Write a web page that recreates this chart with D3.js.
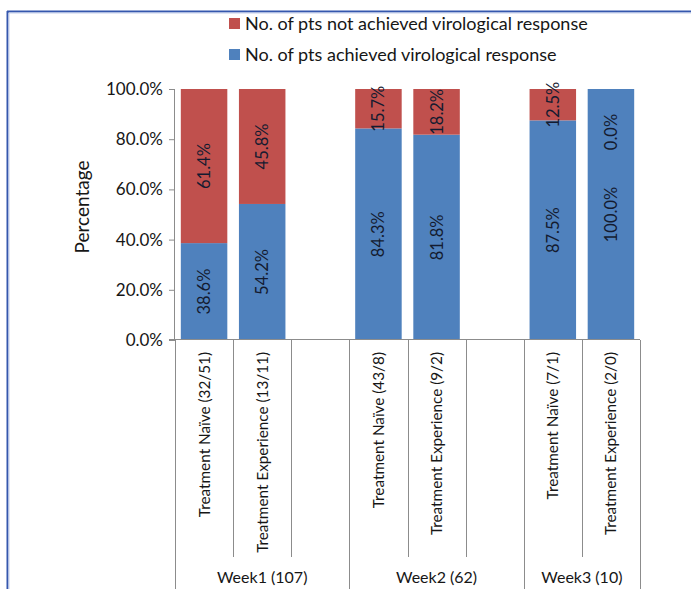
<!DOCTYPE html>
<html><head><meta charset="utf-8">
<script src="https://cdn.jsdelivr.net/npm/d3@7"></script>
<style>body{margin:0;background:#fff}svg{display:block}</style>
</head><body><svg id="c" width="691" height="589"></svg>
<script>
const categories = ["Treatment Naïve (32/51)","Treatment Experience (13/11)","","Treatment Naïve (43/8)","Treatment Experience (9/2)","","Treatment Naïve (7/1)","Treatment Experience (2/0)"];
const achieved = [38.6,54.2,null,84.3,81.8,null,87.5,100.0];
const notAchieved = [61.4,45.8,null,15.7,18.2,null,12.5,0.0];
const groups = ["Week1 (107)","Week2 (62)","Week3 (10)"];
const groupSizes = [3,3,2];
const yTicks = [0,20,40,60,80,100];
const seriesNames = ["No. of pts not achieved virological response","No. of pts achieved virological response"];
const colors = {achieved:"#4f81bd", notAchieved:"#c0504d"};

const font = "Lato, 'Liberation Sans', sans-serif";
const txt = "#161616";
const svg = d3.select("#c");

// frame
svg.append("line").attr("x1",7).attr("x2",691).attr("y1",11.5).attr("y2",11.5).attr("stroke","#3557ad").attr("stroke-width",2);
svg.append("line").attr("x1",7.5).attr("x2",7.5).attr("y1",11).attr("y2",589).attr("stroke","#3557ad").attr("stroke-width",2);
svg.append("line").attr("x1",9).attr("x2",691).attr("y1",13).attr("y2",13).attr("stroke","#c5d0ec").attr("stroke-width",1);
svg.append("line").attr("x1",9).attr("x2",9).attr("y1",13).attr("y2",589).attr("stroke","#c5d0ec").attr("stroke-width",1);

const x = d3.scaleBand().domain(d3.range(categories.length)).range([175,640]).paddingInner(0.2).paddingOuter(0.1);
const y = d3.scaleLinear().domain([0,100]).range([340,89]);
const step = x.step();
const x0 = 175;

// bars
const idx = d3.range(categories.length).filter(i => achieved[i] !== null);
svg.append("g").selectAll("rect.a").data(idx).join("rect")
  .attr("x", i => x(i)).attr("width", x.bandwidth())
  .attr("y", i => y(achieved[i])).attr("height", i => y(0) - y(achieved[i]))
  .attr("fill", colors.achieved);
svg.append("g").selectAll("rect.n").data(idx).join("rect")
  .attr("x", i => x(i)).attr("width", x.bandwidth())
  .attr("y", i => y(achieved[i] + notAchieved[i])).attr("height", i => y(achieved[i]) - y(achieved[i] + notAchieved[i]))
  .attr("fill", colors.notAchieved);

// data labels
const lblColor = "#141b30";
function lbl(i, lo, v){
  const cx = x(i) + x.bandwidth()/2;
  let cy = (y(lo) + y(lo+v))/2;
  if (v === 0) cy = y(lo) + 43;
  svg.append("text").attr("transform", `translate(${cx+6},${cy}) rotate(-90)`)
    .attr("text-anchor","middle").attr("font-family",font).attr("font-size",16.5)
    .attr("fill",lblColor).text(v.toFixed(1)+"%");
}
idx.forEach(i => { lbl(i, 0, achieved[i]); lbl(i, achieved[i], notAchieved[i]); });

// y axis
const yAxis = svg.append("g").attr("transform","translate(175,0)")
  .call(d3.axisLeft(y).tickValues(yTicks).tickSize(6).tickPadding(6).tickFormat(d => d.toFixed(1)+"%"));
yAxis.select(".domain").attr("stroke","#8c8c8c").attr("d","M-0.5,89V340");
yAxis.selectAll(".tick line").attr("stroke","#8c8c8c");
yAxis.selectAll(".tick text").attr("font-family",font).attr("font-size",17).attr("fill",txt);
svg.append("text").attr("transform","translate(89,207) rotate(-90)").attr("text-anchor","middle")
  .attr("font-family",font).attr("font-size",19).attr("fill",txt).text("Percentage");

// x axis baseline
svg.append("line").attr("x1",169).attr("x2",640).attr("y1",339.5).attr("y2",339.5).attr("stroke","#8c8c8c");

// dividers
const groupEdges = [0];
groupSizes.forEach(s => groupEdges.push(groupEdges[groupEdges.length-1] + s));
d3.range(categories.length + 1).forEach(k => {
  const isGroup = groupEdges.includes(k);
  const xx = Math.round(x0 + k*step) + 0.5;
  svg.append("line").attr("x1",xx).attr("x2",xx).attr("y1",340).attr("y2", isGroup ? 589 : 557)
    .attr("stroke","#8c8c8c");
});

// category labels
categories.forEach((c,i) => {
  if (!c) return;
  const cx = x0 + (i+0.5)*step;
  svg.append("text").attr("transform",`translate(${cx+5.5},352) rotate(-90)`)
    .attr("text-anchor","end").attr("font-family",font).attr("font-size",15.3).attr("fill",txt).text(c);
});

// group labels
groups.forEach((g,j) => {
  const a = x0 + groupEdges[j]*step, b = x0 + groupEdges[j+1]*step;
  svg.append("text").attr("x",(a+b)/2).attr("y",583).attr("text-anchor","middle")
    .attr("font-family",font).attr("font-size",16).attr("fill",txt).text(g);
});

// legend
const legColors = [colors.notAchieved, colors.achieved];
seriesNames.forEach((s,k) => {
  const yy = 24 + k*31;
  svg.append("rect").attr("x",229).attr("y",yy-6).attr("width",11).attr("height",11).attr("fill",legColors[k]);
  svg.append("text").attr("x",245).attr("y",yy+6).attr("font-family",font).attr("font-size",18).attr("fill",txt).text(s);
});
</script>
</body></html>
